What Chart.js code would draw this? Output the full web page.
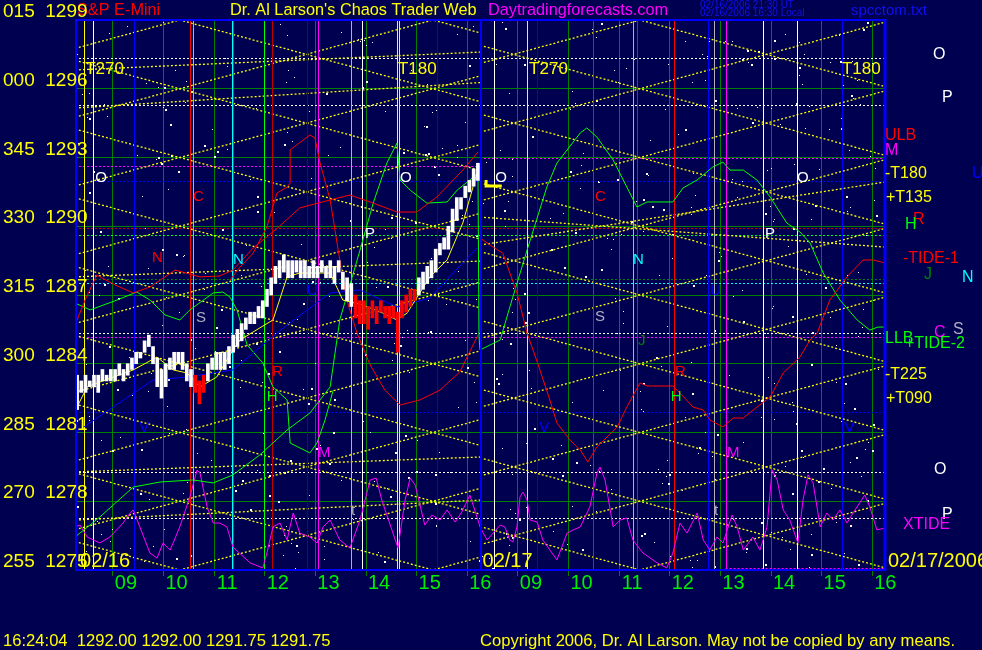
<!DOCTYPE html>
<html><head><meta charset="utf-8">
<script src="https://cdn.jsdelivr.net/npm/chart.js@4.4.1/dist/chart.umd.min.js"></script>
<style>html,body{margin:0;padding:0;background:#000050;overflow:hidden}canvas{display:block}</style>
</head><body>
<canvas id="c" width="982" height="650" style="width:982px;height:650px"></canvas>
<script>
const FONT = "'Liberation Sans', Arial, sans-serif";
const BG = '#000050';

// ---------- axis ticks ----------
const yTickPrices  = [1275, 1278, 1281, 1284, 1287, 1290, 1293, 1296, 1299];
const yTickDegrees = ['255', '270', '285', '300', '315', '330', '345', '000', '015'];
const xTickDays    = [1,1,1,1,1,1,1,1, 2,2,2,2,2,2,2,2];
const xTickHours   = ['09','10','11','12','13','14','15','16','09','10','11','12','13','14','15','16'];

// session clock -> axis value (two 8h sessions, 08:15 - 16:15)
const SESSION_START = 8.25, SESSION_LEN = 8;
function T(day, clock) { const [h, m] = String(clock).split(':').map(Number); return (day - 1) * SESSION_LEN + h + (m || 0) / 60 - SESSION_START; }

// ---------- price bars, day 1 (5-minute bars from 08:15) ----------
const barLow = [1282.00,1282.75,1282.75,1283.00,1283.00,1282.75,1283.25,1283.25,1283.25,1283.25,
  1283.50,1283.25,1283.50,1283.75,1284.00,1284.25,1284.50,1284.75,1284.00,1283.00,
  1282.50,1283.00,1283.75,1283.75,1284.00,1283.75,1283.25,1283.00,1282.75,1282.25,
  1282.75,1283.25,1283.75,1283.75,1283.75,1283.75,1284.00,1284.50,1284.75,1285.00,
  1285.50,1285.75,1285.75,1286.00,1286.00,1286.50,1287.00,1287.50,1287.75,1288.00,
  1287.75,1287.75,1288.00,1287.75,1287.75,1287.75,1287.75,1287.75,1288.00,1287.75,
  1287.75,1287.50,1288.00,1287.25,1286.75,1286.50,1286.00,1285.75,1285.75,1285.50,
  1286.00,1285.75,1286.25,1286.00,1285.75,1286.00,1284.50,1286.00,1286.25,1286.50,
  1286.75,1287.00,1287.25,1287.50,1287.75,1288.00,1288.75,1289.00,1289.00,1289.75,
  1290.25,1290.75,1291.25,1291.50,1291.75,1292.00];
const barHigh = [1283.50,1283.25,1283.50,1283.25,1283.50,1283.50,1283.75,1283.50,1283.75,1283.75,
  1284.00,1283.75,1284.00,1284.25,1284.50,1284.50,1285.00,1285.25,1284.75,1284.25,
  1283.75,1284.00,1284.25,1284.50,1284.50,1284.50,1284.00,1283.75,1283.50,1283.25,
  1283.50,1284.00,1284.25,1284.50,1284.50,1284.50,1284.75,1285.25,1285.50,1285.75,
  1286.00,1286.25,1286.25,1286.50,1286.75,1287.25,1287.75,1288.25,1288.50,1288.75,
  1288.50,1288.50,1288.50,1288.50,1288.50,1288.25,1288.50,1288.25,1288.50,1288.25,
  1288.50,1288.25,1288.50,1288.00,1287.75,1287.50,1287.00,1286.75,1286.75,1286.50,
  1286.75,1286.50,1286.75,1286.50,1286.50,1286.50,1286.25,1286.75,1287.00,1287.25,
  1287.25,1287.75,1288.00,1288.25,1288.50,1289.00,1289.25,1289.50,1290.00,1290.75,
  1291.25,1291.25,1291.75,1292.00,1292.50,1292.75];
const redBars = [28,29,30,66,67,68,69,70,71,72,73,74,75,76,77,78,79,80];

// ---------- indicator curves [axis hours, price] ----------
const yellowAvg = [[0.04,1282.11],[0.24,1282.99],[0.49,1283.20],[1.15,1283.73],[1.62,1284.29],[1.94,1283.73],
  [2.21,1283.60],[2.47,1282.99],[2.80,1283.42],[3.12,1284.60],[3.26,1285.04],[3.91,1285.91],[4.19,1287.79],
  [4.44,1287.96],[5.04,1287.96],[5.29,1286.78],[5.69,1286.56],[6.08,1286.21],[6.36,1285.91],[6.56,1286.21],
  [7.01,1287.79],[7.35,1288.53],[7.66,1290.14],[7.94,1292.32]];
const blueLine = [[0.00,1280.98],[1.54,1283.29],[2.21,1283.42],[3.12,1283.73],[4.11,1285.56],[5.04,1287.09],
  [5.63,1287.22],[6.36,1286.48],[7.01,1286.87],[7.66,1288.40],[7.94,1289.05]];
const redUpper = [[0.00,1285.69],[0.20,1286.78],[0.43,1287.87],[0.79,1287.44],[1.15,1287.09],[1.48,1287.35],
  [1.98,1288.09],[2.47,1287.79],[2.86,1287.83],[3.12,1288.09],[3.52,1289.05],[4.00,1289.92],[4.44,1290.80],
  [5.04,1291.15],[5.43,1291.36],[5.83,1291.06],[6.36,1290.62],[6.75,1290.62],[7.15,1291.28],[7.66,1292.45],[7.96,1293.24]];
const redPeak = [[3.06,1287.65],[3.26,1288.22],[3.52,1288.83],[3.79,1289.97],[3.99,1291.45],[4.19,1291.71],
  [4.25,1291.89],[4.25,1293.33],[4.64,1293.98],[4.74,1293.85],[4.84,1292.76],[5.04,1291.15],[5.23,1288.53],
  [5.37,1286.78],[5.57,1285.34],[5.83,1283.95],[6.12,1282.85],[6.42,1282.20],[6.81,1282.42],[7.21,1282.85],
  [7.60,1283.64],[7.96,1285.25]];
const redDay2 = [[8.00,1289.49],[8.26,1289.09],[8.45,1288.83],[8.73,1287.09],[8.93,1285.34],[9.13,1284.08],
  [9.38,1282.42],[9.52,1281.41],[9.78,1280.67],[9.98,1280.24],[10.13,1279.71],[10.31,1280.37],[10.71,1281.24],
  [10.90,1282.11],[11.16,1283.16],[11.30,1283.03],[11.81,1283.03],[11.95,1282.72],[12.21,1282.11],[12.41,1281.98],
  [12.54,1281.55],[12.80,1281.24],[13.00,1281.63],[13.20,1281.63],[13.47,1282.11],[13.73,1282.55],[13.99,1283.60],
  [14.32,1284.29],[14.52,1285.04],[14.66,1285.34],[14.91,1286.78],[15.25,1287.79],[15.57,1288.53],[15.76,1288.53],[16.00,1288.40]];
const greenMain = [[0.00,1276.44],[0.49,1277.31],[1.15,1278.62],[1.68,1278.84],[2.33,1278.93],[2.73,1278.80],
  [3.12,1279.15],[3.65,1280.02],[4.19,1281.11],[4.64,1281.85],[5.04,1282.99],[5.23,1285.91],[5.63,1288.96],
  [5.89,1291.01],[6.16,1292.76],[6.36,1293.63],[6.42,1292.02],[6.62,1291.58],[6.95,1291.01],[7.35,1291.06],
  [7.55,1291.58],[7.80,1292.02],[7.96,1292.32],[7.98,1285.20],
  [8.00,1284.60],[8.40,1285.04],[8.59,1286.48],[8.93,1288.96],[9.32,1291.71],[9.52,1292.76],[9.98,1294.07],
  [10.11,1294.29],[10.31,1293.89],[10.63,1292.89],[10.90,1291.71],[11.10,1290.84],[11.30,1291.06],[11.81,1291.06],
  [12.01,1291.67],[12.29,1292.02],[12.60,1292.59],[12.80,1292.80],[12.94,1292.45],[13.20,1292.45],[13.47,1292.02],
  [13.73,1291.28],[14.06,1290.14],[14.32,1289.75],[14.52,1289.27],[14.78,1287.96],[15.11,1286.78],[15.45,1285.91],
  [15.70,1285.47],[15.86,1285.60],[16.00,1285.60]];
const greenUpper = [[0.00,1286.65],[0.30,1286.35],[0.83,1286.78],[1.22,1287.13],[1.48,1286.78],[1.78,1286.13],
  [2.07,1285.91],[2.27,1286.35],[2.73,1287.09],[2.92,1287.13],[3.06,1286.91],[3.20,1286.35],[3.40,1284.82],
  [3.71,1284.03],[3.91,1282.99],[4.19,1282.42],[4.25,1280.54],[4.64,1280.11],[4.78,1280.54],[4.94,1281.55],[5.10,1282.85]];
const xtide = [[0.00,1276.88],[0.10,1276.96],[0.24,1276.44],[0.49,1276.18],[0.69,1276.44],[0.95,1277.05],[1.09,1277.49],
  [1.15,1277.62],[1.28,1276.88],[1.48,1275.74],[1.62,1275.52],[1.74,1276.18],[1.88,1275.87],[2.07,1276.88],[2.27,1278.19],
  [2.41,1279.36],[2.47,1279.23],[2.61,1277.75],[2.73,1277.05],[2.86,1277.05],[3.00,1276.88],[3.12,1276.00],[3.46,1275.31],
  [3.71,1275.09],[3.79,1275.74],[3.91,1276.88],[4.05,1277.05],[4.19,1276.31],[4.31,1277.49],[4.44,1276.61],[4.64,1276.44],
  [4.78,1276.18],[4.90,1276.88],[5.04,1277.18],[5.23,1276.31],[5.43,1275.96],[5.63,1277.18],[5.83,1278.93],[5.95,1279.01],
  [6.06,1278.05],[6.26,1276.75],[6.38,1275.96],[6.52,1278.05],[6.62,1279.01],[6.72,1278.71],[6.91,1276.96],[7.05,1277.40],
  [7.21,1277.18],[7.35,1277.62],[7.51,1277.09],[7.64,1277.53],[7.80,1278.27],[7.96,1277.18],
  [8.00,1276.88],[8.14,1276.31],[8.26,1276.61],[8.40,1276.96],[8.49,1276.88],[8.59,1276.31],[8.65,1276.22],[8.73,1276.88],
  [8.79,1278.19],[8.85,1278.40],[8.93,1278.05],[8.99,1277.18],[9.13,1277.09],[9.24,1276.31],[9.52,1275.44],[9.72,1276.61],
  [9.84,1276.75],[9.98,1276.88],[10.17,1277.75],[10.31,1279.23],[10.37,1279.49],[10.47,1278.93],[10.63,1276.88],[10.77,1277.18],
  [10.90,1277.27],[11.02,1276.31],[11.22,1275.74],[11.50,1275.31],[11.69,1275.09],[11.81,1275.74],[11.95,1277.05],[12.09,1276.61],
  [12.29,1277.49],[12.41,1276.31],[12.54,1275.87],[12.68,1276.44],[12.80,1276.18],[12.98,1277.40],[13.08,1276.88],[13.20,1275.87],
  [13.39,1276.44],[13.53,1275.87],[13.67,1276.88],[13.77,1279.36],[13.87,1278.93],[13.99,1277.62],[14.12,1277.18],[14.28,1276.18],
  [14.38,1278.05],[14.48,1279.15],[14.58,1278.80],[14.72,1276.88],[14.85,1277.49],[14.97,1277.18],[15.11,1277.62],[15.25,1277.05],
  [15.37,1277.49],[15.60,1278.27],[15.70,1277.75],[15.84,1276.75],[16.00,1276.83]];
const openMark = [[8.12,1292.02],[8.12,1291.76],[8.43,1291.76]];

// ---------- time lines (vertical) : [day, clock, colour] ----------
const timeLines = [[1,'08:26','#ffff00'],[1,'08:36','#ffffff'],[1,'09:25','#0000ff'],[1,'10:31','#ff0000'],[1,'10:35','#b0b0c0'],
  [1,'11:21','#00ffff'],[1,'11:22','#008000'],[1,'11:59','#00ff00'],[1,'12:08','#c00000'],[1,'12:50','#0000ff'],[1,'13:03','#ff00ff'],
  [1,'13:42','#b0b0c0'],[1,'13:55','#ffffff'],[1,'14:37','#ffff00'],[1,'14:39','#ffff00'],[1,'15:24','#0000ff'],
  [2,'08:32','#ffffff'],[2,'09:11','#ffff00'],[2,'09:23','#0000ff'],[2,'10:29','#ff0000'],[2,'11:16','#00ffff'],[2,'11:21','#008000'],
  [2,'12:05','#ff0000'],[2,'12:45','#0000ff'],[2,'12:52','#b0b0c0'],[2,'13:06','#ff00ff'],[2,'13:50','#ffffff'],[2,'14:31','#ffffff'],[2,'15:24','#0000ff']];

// ---------- price levels (dotted horizontal) : [price, colour, from, to] ----------
const priceLevels = [[1297.34,'#ffffff',0,16],[1295.29,'#ffffff',0,16],[1292.63,'#ff00ff',0,8],[1292.98,'#ff00ff',8,16],
  [1291.97,'#0000ff',0,16],[1289.92,'#d00000',0,16],[1289.62,'#00ff00',0,16],[1287.70,'#008000',0,16],[1287.52,'#00ffff',0,16],
  [1285.34,'#ffffff',0,16],[1285.17,'#ff00ff',0,16],[1281.89,'#0000ff',0,16],[1279.28,'#ffffff',0,16],[1277.27,'#ffffff',0,16],
  [1275.09,'#ff00ff',12.85,16]];

// ---------- yellow angle lines: per session, crossing time and rate (pts / hour) ----------
const angleSessions = [[0, 8, 2.07, 0.6], [8, 16, 11.16, 0.6]];
const angleLevels = [1266,1269,1272,1275,1278,1281,1284,1287,1290,1293,1296,1299,1302,1305,1308];
// flatter yellow lines seen in the picture : [t0, p0, t1, p1]
const flatLines = [[0,1296.82,8,1297.60],[0,1295.16,8,1296.27],[0,1287.79,8,1288.48],[0,1279.28,8,1279.93],[0,1277.18,8,1278.05],
  [8,1289.18,16,1291.93],[8,1290.40,16,1289.09]];

// ---------- labels inside the chart : [text, hours, price, colour] ----------
const planetLabels = [['T270',0.20,1296.86,'#ffff00'],['T180',6.38,1296.86,'#ffff00'],['T270',8.97,1296.86,'#ffff00'],['T180',15.15,1296.86,'#ffff00'],
  ['O',0.40,1292.10,'#ffffff'],['O',6.42,1292.10,'#ffffff'],['O',8.30,1292.10,'#ffffff'],['O',14.26,1292.10,'#ffffff'],
  ['C',2.33,1291.30,'#ff0000'],['C',10.27,1291.30,'#ff0000'],['N',3.12,1288.55,'#00ffff'],['N',11.02,1288.55,'#00ffff'],
  ['N',1.52,1288.60,'#ff0000'],['S',2.39,1286.00,'#b0b0c0'],['S',10.27,1286.05,'#b0b0c0'],['J',11.12,1285.00,'#008000'],
  ['U',4.58,1287.20,'#0000ff'],['U',12.55,1287.20,'#0000ff'],['P',5.73,1289.65,'#ffffff'],['P',13.63,1289.65,'#ffffff'],
  ['R',3.89,1283.65,'#ff0000'],['R',11.85,1283.65,'#ff0000'],['H',3.79,1282.55,'#00ff00'],['H',11.77,1282.55,'#00ff00'],
  ['M',4.80,1280.10,'#ff00ff'],['M',12.88,1280.10,'#ff00ff'],['t',5.45,1277.60,'#b0b0c0'],['t',12.62,1277.60,'#b0b0c0'],
  ['V',1.27,1281.20,'#0000ff'],['V',9.17,1281.20,'#0000ff'],['V',15.20,1281.20,'#0000ff']];
const dateLabels = [['02/16',0.10],['02/17',8.05]];

// ---------- labels right of the chart : [text, price, x, colour] ----------
const sideLabels = [['O',1297.5,933,'#ffffff'],['P',1295.6,942,'#ffffff'],['ULB',1293.94,885,'#ff0000'],['M',1293.28,885,'#ff00ff'],
  ['-T180',1292.28,885,'#ffff00'],['U',1292.28,972,'#0000ff'],['+T135',1291.24,886,'#ffff00'],['R',1290.27,913,'#ff0000'],
  ['H',1290.09,905,'#00ff00'],['-TIDE-1',1288.61,903,'#ff0000'],['J',1287.91,924,'#008000'],['N',1287.78,962,'#00ffff'],
  ['C',1285.38,934,'#ff00ff'],['S',1285.51,953,'#b0b0c0'],['LLB',1285.08,885,'#00ff00'],['+TIDE-2',1284.86,905,'#00ff00'],
  ['-T225',1283.51,885,'#ffff00'],['+T090',1282.46,886,'#ffff00'],['O',1279.40,934,'#ffffff'],['P',1277.40,942,'#ffffff'],
  ['XTIDE',1276.96,903,'#ff00ff']];

// ---------- page texts ----------
const headerTexts = [['S&P E-Mini',77,'#ff0000'],["Dr. Al Larson's Chaos Trader Web",230,'#ffff00'],['Daytradingforecasts.com',488,'#ff00ff']];
const fileText = 'spcctom.txt';
const stampTexts = ['02/16/2006 21:30 UT','02/16/2006 16:30 Local'];
const quoteText = '16:24:04  1292.00 1292.00 1291.75 1291.75';
const copyrightText = 'Copyright 2006, Dr. Al Larson. May not be copied by any means.';
const endDateText = '02/17/2006';

// ---------- build datasets ----------
const pts = a => a.map(([x, y]) => ({x, y}));
const barData = barLow.map((lo, i) => ({x: (i + 0.5) / 12, y: [lo, barHigh[i]]}));
const barColors = barLow.map((_, i) => redBars.includes(i) ? '#ff0000' : '#ffffff');
const lineDs = (data, color, order, w) => ({type: 'line', data: pts(data), borderColor: color, borderWidth: w || 1, pointRadius: 0, tension: 0, order, fill: false});

const decor = {
  id: 'decor',
  beforeDraw(chart) {
    const c = chart.ctx; c.save(); c.fillStyle = BG; c.fillRect(0, 0, chart.width, chart.height); c.restore();
  },
  beforeDatasetsDraw(chart) {
    const {ctx, chartArea: a, scales: {x, y}} = chart;
    ctx.save();
    ctx.beginPath(); ctx.rect(a.left, a.top, a.right - a.left, a.bottom - a.top); ctx.clip();
    // star field texture
    let s = 20060216;
    const rnd = () => { s = (s * 1103515245 + 12345) % 2147483648; return s / 2147483648; };
    ctx.fillStyle = '#ffffff';
    for (let i = 0; i < 560; i++) {
      const sx = Math.round(a.left + rnd() * (a.right - a.left)), sy = Math.round(a.top + rnd() * (a.bottom - a.top));
      const big = rnd() < 0.35;
      ctx.fillRect(sx, sy, big ? 2 : 1, big ? 2 : 1);
    }
    // dotted price levels
    ctx.lineWidth = 1; ctx.setLineDash([2, 2]);
    for (const [p, col, t0, t1] of priceLevels) {
      const py = Math.round(y.getPixelForValue(p)) + 0.5;
      ctx.strokeStyle = col; ctx.beginPath(); ctx.moveTo(x.getPixelForValue(t0), py); ctx.lineTo(x.getPixelForValue(t1), py); ctx.stroke();
    }
    // yellow angle lattice
    ctx.strokeStyle = '#ffff00'; ctx.lineWidth = 1.3; ctx.setLineDash([2, 2]);
    for (const [t0, t1, tc, rate] of angleSessions) {
      ctx.save();
      const x0 = x.getPixelForValue(t0), x1 = x.getPixelForValue(t1);
      ctx.beginPath(); ctx.rect(x0, a.top, x1 - x0, a.bottom - a.top); ctx.clip();
      for (const lvl of angleLevels) for (const sg of [1, -1]) {
        ctx.beginPath();
        ctx.moveTo(x0, y.getPixelForValue(lvl + sg * rate * (t0 - tc)));
        ctx.lineTo(x1, y.getPixelForValue(lvl + sg * rate * (t1 - tc)));
        ctx.stroke();
      }
      ctx.restore();
    }
    for (const [t0, p0, t1, p1] of flatLines) {
      ctx.beginPath(); ctx.moveTo(x.getPixelForValue(t0), y.getPixelForValue(p0)); ctx.lineTo(x.getPixelForValue(t1), y.getPixelForValue(p1)); ctx.stroke();
    }
    // vertical time lines
    ctx.setLineDash([]); ctx.lineWidth = 1;
    for (const [d, clk, col] of timeLines) {
      const px = Math.round(x.getPixelForValue(T(d, clk))) + 0.5;
      ctx.strokeStyle = col; ctx.beginPath(); ctx.moveTo(px, a.top); ctx.lineTo(px, a.bottom); ctx.stroke();
    }
    ctx.restore();
  },
  afterDatasetsDraw(chart) {
    const {ctx, scales: {x, y}} = chart;
    ctx.save();
    ctx.textBaseline = 'middle'; ctx.textAlign = 'left';
    for (const [txt, t, p, col] of planetLabels) {
      ctx.font = (txt.length > 1 ? '17px ' : '15px ') + FONT;
      ctx.fillStyle = col; ctx.fillText(txt, x.getPixelForValue(t), y.getPixelForValue(p));
    }
    ctx.font = '20px ' + FONT; ctx.fillStyle = '#ffff00';
    for (const [txt, t] of dateLabels) ctx.fillText(txt, x.getPixelForValue(t), y.getPixelForValue(1275) - 9);
    ctx.restore();
  },
  afterDraw(chart) {
    const {ctx, chartArea: a, scales: {x, y}} = chart;
    ctx.save();
    // frame
    ctx.strokeStyle = '#0000ff';
    ctx.lineWidth = 2;
    ctx.beginPath(); ctx.moveTo(a.left, a.top); ctx.lineTo(a.right, a.top); ctx.stroke();
    ctx.beginPath(); ctx.moveTo(a.left, a.bottom); ctx.lineTo(a.right, a.bottom); ctx.stroke();
    ctx.beginPath(); ctx.moveTo(a.left + 1, a.top); ctx.lineTo(a.left + 1, a.bottom); ctx.stroke();
    const mid = x.getPixelForValue(T(2, '08:15'));
    ctx.beginPath(); ctx.moveTo(mid + 1, a.top); ctx.lineTo(mid + 1, a.bottom); ctx.stroke();
    ctx.lineWidth = 3;
    ctx.beginPath(); ctx.moveTo(a.right, a.top - 1); ctx.lineTo(a.right, a.bottom + 1); ctx.stroke();
    ctx.textBaseline = 'middle'; ctx.textAlign = 'left';
    // header
    ctx.font = '16.3px ' + FONT;
    for (const [txt, px, col] of headerTexts) { ctx.fillStyle = col; ctx.fillText(txt, px, 11); }
    // y-axis labels (degree + price), drawn over the header like the original
    ctx.font = '19px ' + FONT; ctx.fillStyle = '#ffff00';
    yTickPrices.forEach((p, i) => ctx.fillText(yTickDegrees[i] + '  ' + p, 3, y.getPixelForValue(p) - 8));
    ctx.font = '15px ' + FONT; ctx.fillStyle = '#1010f0';
    ctx.fillText(fileText, 851, 11);
    ctx.font = '10px ' + FONT;
    ctx.fillText(stampTexts[0], 700, 5); ctx.fillText(stampTexts[1], 700, 13);
    for (const [txt, p, px, col] of sideLabels) {
      ctx.font = '16px ' + FONT; ctx.fillStyle = col; ctx.fillText(txt, px, y.getPixelForValue(p));
    }
    ctx.font = '20px ' + FONT; ctx.fillStyle = '#ffff00';
    ctx.fillText(endDateText, a.right + 3, y.getPixelForValue(1275) - 9);
    ctx.font = '16.6px ' + FONT; ctx.fillStyle = '#ffff00';
    ctx.fillText(quoteText, 3, 641);
    ctx.fillText(copyrightText, 480, 641);
    ctx.restore();
  }
};

new Chart(document.getElementById('c'), {
  data: {
    datasets: [
      {type: 'bar', data: barData, backgroundColor: barColors, borderWidth: 0, barThickness: 3, order: 1},
      lineDs(yellowAvg, '#ffff00', 2),
      lineDs(openMark, '#ffff00', 2, 3),
      lineDs(blueLine, '#0000ff', 3),
      lineDs(redUpper, '#ff0000', 4),
      lineDs(redPeak, '#ff0000', 4),
      lineDs(redDay2, '#ff0000', 4),
      lineDs(greenMain, '#00ff00', 5),
      lineDs(greenUpper, '#00ff00', 5),
      lineDs(xtide, '#ff00ff', 6)
    ]
  },
  options: {
    responsive: false, animation: false, devicePixelRatio: 1, events: [],
    layout: {padding: {top: 20, right: 97, left: 3, bottom: 0}},
    plugins: {legend: {display: false}, tooltip: {enabled: false}},
    scales: {
      x: {
        type: 'linear', min: 0, max: 16, offset: false, position: 'bottom',
        afterFit: s => { s.height = 80; },
        afterBuildTicks: s => { s.ticks = xTickHours.map((h, i) => ({value: T(xTickDays[i], h + ':00')})); },
        ticks: {callback: (v, i) => xTickHours[i], color: '#00ee00', font: {family: FONT, size: 20}, labelOffset: 13, padding: -5, maxRotation: 0, autoSkip: false},
        grid: {color: '#008000', lineWidth: 1, drawTicks: true, tickLength: 6, offset: false},
        border: {display: false}
      },
      y: {
        type: 'linear', min: 1275, max: 1299, position: 'left',
        afterFit: s => { s.width = 72; },
        afterBuildTicks: s => { s.ticks = yTickPrices.map(v => ({value: v})); },
        ticks: {display: false},
        grid: {color: '#008000', lineWidth: 1, drawTicks: false},
        border: {display: false}
      }
    }
  },
  plugins: [decor]
});
</script>
</body></html>
